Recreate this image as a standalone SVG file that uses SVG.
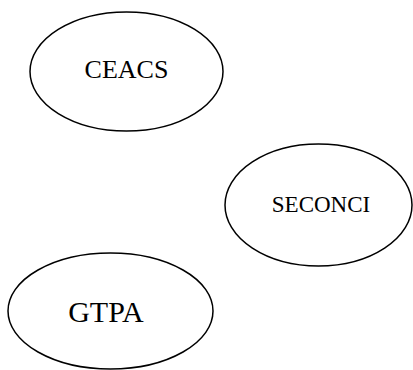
<svg xmlns="http://www.w3.org/2000/svg" width="413" height="370" viewBox="0 0 413 370">
<style>
.n ellipse{fill:#fff;stroke:#000;stroke-width:1.5}
.n text{font-family:"Liberation Serif","Times New Roman",serif;fill:#000;text-anchor:middle}
</style>
<rect width="413" height="370" fill="#fff"/>
<g id="connectors"></g>
<g id="CEACS" class="n"><ellipse cx="126.5" cy="71.5" rx="96.5" ry="59.5"/><text x="126.5" y="78" font-size="26">CEACS</text></g>
<g id="SECONCI" class="n"><ellipse cx="318.5" cy="205" rx="93.5" ry="61"/><text x="321" y="212" font-size="23">SECONCI</text></g>
<g id="GTPA" class="n"><ellipse cx="110.5" cy="311" rx="102.5" ry="58"/><text x="106" y="322" font-size="30">GTPA</text></g>
</svg>
